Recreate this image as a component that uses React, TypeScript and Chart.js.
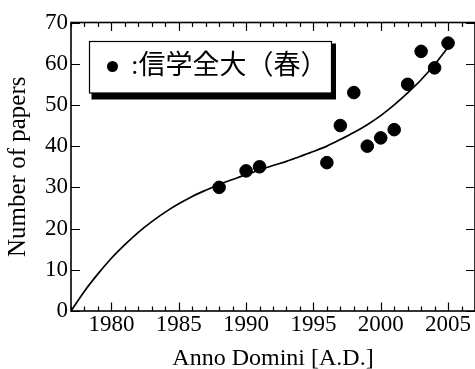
import React, { useEffect, useRef } from "react";
import { Chart, registerables } from "chart.js";

Chart.register(...registerables);

// Observed data points (year, number of papers)
const pointYears = [1988, 1990, 1991, 1996, 1997, 1998, 1999, 2000, 2001, 2002, 2003, 2004, 2005];
const pointPapers = [30, 34, 35, 36, 45, 53, 40, 42, 44, 55, 63, 59, 65];

// Fitted curve
const curveYears = [
  1977, 1978, 1979, 1980, 1981, 1982, 1983, 1984, 1985, 1986,
  1987, 1988, 1989, 1990, 1991, 1992, 1993, 1994, 1995, 1996,
  1997, 1998, 1999, 2000, 2001, 2002, 2003, 2004, 2005,
];
const curvePapers = [
  0, 4.8, 9.0, 12.8, 16.1, 19.1, 21.7, 24.0, 26.0, 27.8,
  29.3, 30.7, 31.9, 33.1, 34.2, 35.3, 36.3, 37.5, 38.7, 40.0,
  41.6, 43.3, 45.2, 47.4, 50.0, 52.9, 56.1, 59.8, 64.0,
];

const xTickLabels = [1980, 1985, 1990, 1995, 2000, 2005];
const yTickLabels = [0, 10, 20, 30, 40, 50, 60, 70];

const legendLabel = ":信学全大（春）";
const xTitle = "Anno Domini [A.D.]";
const yTitle = "Number of papers";

const SERIF = '"Liberation Serif", "Times New Roman", serif';

const framePlugin = {
  id: "frameTicks",
  afterDatasetsDraw(chart: any) {
    const { ctx, chartArea, scales } = chart;
    const { left, right, top, bottom } = chartArea;
    const x = scales.x;
    const y = scales.y;
    ctx.save();
    ctx.strokeStyle = "#000";
    ctx.lineWidth = 1.2;
    ctx.beginPath();
    for (let v = Math.ceil(x.min); v <= x.max; v++) {
      const px = Math.round(x.getPixelForValue(v)) + 0.5;
      const len = v % 5 === 0 ? 8.5 : 4.5;
      ctx.moveTo(px, bottom);
      ctx.lineTo(px, bottom - len);
      ctx.moveTo(px, top);
      ctx.lineTo(px, top + len);
    }
    for (const v of yTickLabels) {
      const py = Math.round(y.getPixelForValue(v)) + 0.5;
      ctx.moveTo(left, py);
      ctx.lineTo(left + 9, py);
      ctx.moveTo(right, py);
      ctx.lineTo(right - 9, py);
    }
    ctx.stroke();
    ctx.lineWidth = 1.6;
    ctx.strokeRect(left, top, right - left, bottom - top);
    ctx.restore();
  },
};

const legendPlugin = {
  id: "boxLegend",
  afterDraw(chart: any) {
    const { ctx } = chart;
    const bx = 89.5;
    const by = 41.5;
    const bw = 242;
    const bh = 51.5;
    ctx.save();
    ctx.fillStyle = "#000";
    ctx.fillRect(bx + 2, by + 2, bw + 2.5, bh + 4.5);
    ctx.fillStyle = "#fff";
    ctx.fillRect(bx, by, bw, bh);
    ctx.strokeStyle = "#000";
    ctx.lineWidth = 1.2;
    ctx.strokeRect(bx, by, bw, bh);
    const ds = chart.data.datasets[1];
    ctx.fillStyle = "#000";
    ctx.beginPath();
    ctx.arc(112.5, 66.5, 5.5, 0, Math.PI * 2);
    ctx.fill();
    ctx.font = `27px "Liberation Serif", "Noto Sans CJK JP", serif`;
    ctx.textBaseline = "middle";
    ctx.textAlign = "left";
    ctx.fillText(ds.label, 131, 67);
    ctx.restore();
  },
};

export default function App() {
  const ref = useRef<HTMLCanvasElement | null>(null);

  useEffect(() => {
    document.body.style.margin = "0";
    document.body.style.overflow = "hidden";
    const canvas = ref.current;
    if (!canvas) return;
    const chart = new Chart(canvas, {
      type: "scatter",
      data: {
        datasets: [
          {
            type: "line",
            label: "fit",
            data: curveYears.map((yr, i) => ({ x: yr, y: curvePapers[i] })),
            borderColor: "#000",
            borderWidth: 1.7,
            pointRadius: 0,
            tension: 0.3,
            fill: false,
          } as any,
          {
            type: "scatter",
            label: legendLabel,
            data: pointYears.map((yr, i) => ({ x: yr, y: pointPapers[i] })),
            backgroundColor: "#000",
            borderColor: "#000",
            pointRadius: 6.3,
            pointHoverRadius: 6.3,
          },
        ],
      },
      options: {
        responsive: false,
        animation: false,
        devicePixelRatio: 1,
        layout: {
          autoPadding: false,
          padding: { top: 22.5, right: -1.8, left: 0, bottom: 0 },
        },
        plugins: {
          legend: { display: false },
          tooltip: { enabled: false },
        },
        scales: {
          x: {
            type: "linear",
            position: "bottom",
            min: 1977,
            max: 2007,
            grid: { display: false, drawTicks: false },
            border: { display: false },
            afterBuildTicks: (s: any) => {
              s.ticks = xTickLabels.map((v) => ({ value: v }));
            },
            afterFit: (s: any) => {
              s.height = 58;
              s.paddingLeft = 0;
              s.paddingRight = 0;
            },
            ticks: {
              color: "#000",
              font: { family: SERIF, size: 23 },
              padding: 0,
              maxRotation: 0,
              autoSkip: false,
              callback: (v: any) => String(v),
            },
            title: {
              display: true,
              text: xTitle,
              color: "#000",
              font: { family: SERIF, size: 24 },
              padding: { top: 0, bottom: -4.5 },
            },
          },
          y: {
            type: "linear",
            min: 0,
            max: 70,
            grid: { display: false, drawTicks: false },
            border: { display: false },
            afterBuildTicks: (s: any) => {
              s.ticks = yTickLabels.map((v) => ({ value: v }));
            },
            afterFit: (s: any) => {
              s.width = 71;
              s.paddingTop = 0;
              s.paddingBottom = 0;
            },
            ticks: {
              color: "#000",
              font: { family: SERIF, size: 23 },
              padding: 3,
              autoSkip: false,
              callback: (v: any) => String(v),
            },
            title: {
              display: true,
              text: yTitle,
              color: "#000",
              font: { family: SERIF, size: 25 },
              padding: { top: 3, bottom: 0 },
            },
          },
        },
      },
      plugins: [framePlugin, legendPlugin],
    });
    return () => chart.destroy();
  }, []);

  return (
    <canvas
      ref={ref}
      width={475}
      height={369}
      style={{ display: "block", width: "475px", height: "369px" }}
    />
  );
}
